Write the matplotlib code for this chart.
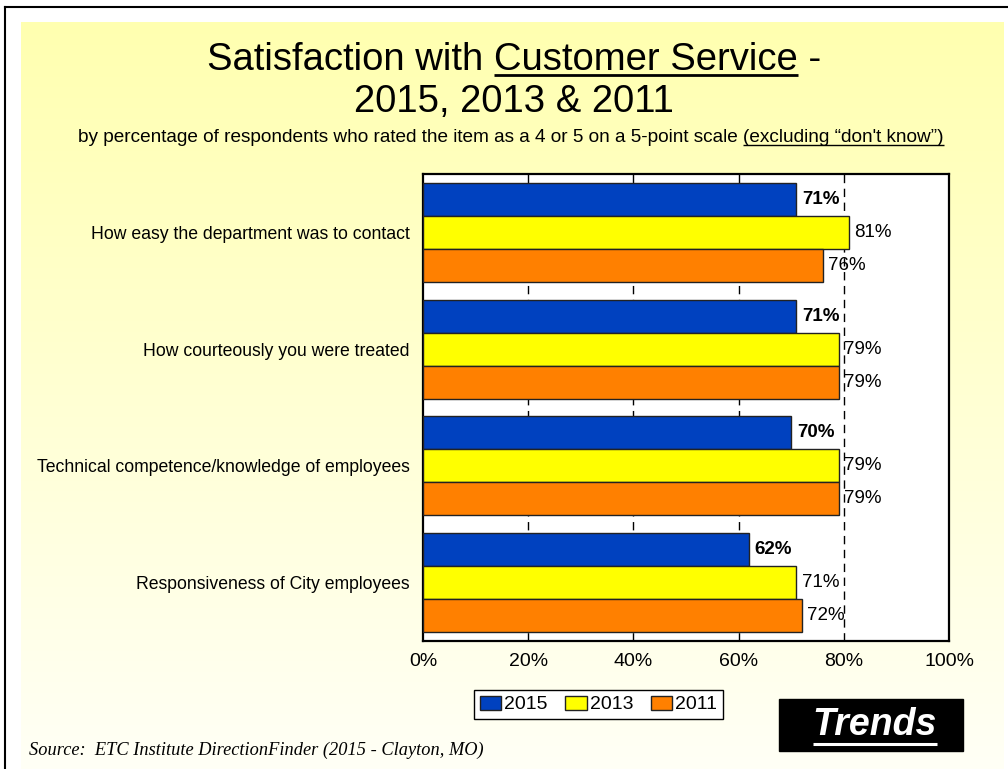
import numpy as np
import matplotlib
matplotlib.use("Agg")
import matplotlib.pyplot as plt
from matplotlib.patches import Rectangle

plt.rcParams['font.family'] = ['Liberation Sans', 'DejaVu Sans']

# survey results, % rating 4 or 5
items = ["How easy the department was to contact",
         "How courteously you were treated",
         "Technical competence/knowledge of employees",
         "Responsiveness of City employees"]
years = ["2015", "2013", "2011"]
pct_2015 = [71, 71, 70, 62]
pct_2013 = [81, 79, 79, 71]
pct_2011 = [76, 79, 79, 72]
xticks = [0, 20, 40, 60, 80, 100]

blue = "#0041BF"
yellow = "#FFFF00"
orange = "#FF8000"

W, H = 1008, 769
fig = plt.figure(figsize=(W / 100, H / 100), dpi=100)

# page layer in pixel coords (y down)
bg = fig.add_axes([0, 0, 1, 1], zorder=-10)
bg.axis("off")

top_c = np.array([255, 255, 176]) / 255
bot_c = np.array([255, 255, 246]) / 255
t = np.linspace(0, 1, 256)[:, None, None]
grad = top_c * (1 - t) + bot_c * t
bg.imshow(grad, extent=[21, 1004, 769, 22], aspect="auto", interpolation="bilinear")
bg.set_xlim(0, W)
bg.set_ylim(H, 0)
bg.plot([5, 5], [7, 769], color="k", lw=1.5)
bg.plot([5, 1008], [7, 7], color="k", lw=1.5)

renderer = fig.canvas.get_renderer()


def text_w(s, prop):
    w1 = renderer.get_text_width_height_descent(s + "|", prop, ismath=False)[0]
    w2 = renderer.get_text_width_height_descent("|", prop, ismath=False)[0]
    return w1 - w2


def underline(txt, prefix, part, dy, lw, color="k"):
    prop = txt.get_fontproperties()
    bb = txt.get_window_extent(renderer)
    x0 = bb.x0 + text_w(prefix, prop)
    x1 = bb.x0 + text_w(prefix + part, prop)
    inv = bg.transData.inverted()
    (a, _), (b, _) = inv.transform([(x0, 0), (x1, 0)])
    xb, yb = txt.get_position()
    bg.plot([a, b], [yb + dy, yb + dy], color=color, lw=lw, solid_capstyle="butt")


l1a, l1b, l1c = "Satisfaction with ", "Customer Service", " -"
t1 = bg.text(514, 70, l1a + l1b + l1c, fontsize=27.5, ha="center", va="baseline")
bg.text(514, 112, "2015, 2013 & 2011", fontsize=27.5, ha="center", va="baseline")
s1 = "by percentage of respondents who rated the item as a 4 or 5 on a 5-point scale "
s2 = "(excluding \u201cdon't know\u201d)"
t2 = bg.text(511, 142, s1 + s2, fontsize=13.7, ha="center", va="baseline")

bg.text(29, 755, "Source:  ETC Institute DirectionFinder (2015 - Clayton, MO)",
        family="Liberation Serif", style="italic", fontsize=13.2, va="baseline")

bg.add_patch(Rectangle((779, 699), 184, 52, color="k"))
t3 = bg.text(875, 735, "Trends", color="w", fontsize=27, fontweight="bold",
             style="italic", ha="center", va="baseline")

# chart
ax = fig.add_axes([423 / W, 1 - 641 / H, 526 / W, 467 / H])
y = np.arange(len(items))
h = 0.283
series = [(pct_2015, blue, "bold"), (pct_2013, yellow, "normal"), (pct_2011, orange, "normal")]
for k, (vals, col, wt) in enumerate(series):
    pos = y + (k - 1) * h
    ax.barh(pos, vals, h, color=col, edgecolor="#222222", lw=1, zorder=3, label=years[k])
    for v, p in zip(vals, pos):
        ax.annotate(f"{v}%", (v, p), xytext=(4, 0), textcoords="offset points",
                    va="center", ha="left", fontsize=13.5, fontweight=wt, zorder=4)

for g in xticks[1:-1]:
    ax.axvline(g, color="k", lw=1, dashes=(6, 4), zorder=1)

ax.set_xlim(0, 100)
ax.set_ylim(3.5, -0.5)
ax.set_xticks(xticks)
ax.set_xticklabels([f"{v}%" for v in xticks])
ax.set_yticks(y)
ax.set_yticklabels(items)
ax.tick_params(axis="x", length=0, pad=9, labelsize=14)
ax.tick_params(axis="y", length=0, pad=9.5, labelsize=12.7)
for sp in ax.spines.values():
    sp.set_linewidth(1.6)
ax.set_facecolor("white")

ax.legend(loc="center", bbox_to_anchor=(598.5 / W, 1 - 704.5 / H), bbox_transform=fig.transFigure,
          ncol=3, fancybox=False, edgecolor="k", framealpha=1, fontsize=14,
          handlelength=1.1, handleheight=0.75, handletextpad=0.15, columnspacing=0.9,
          borderpad=0.3)

fig.canvas.draw()
underline(t1, l1a, l1b, 5, 2)
underline(t2, s1, s2, 3, 1)
underline(t3, "", "Trends", 9, 2.2, color="w")

fig.savefig("out.png", dpi=100)
